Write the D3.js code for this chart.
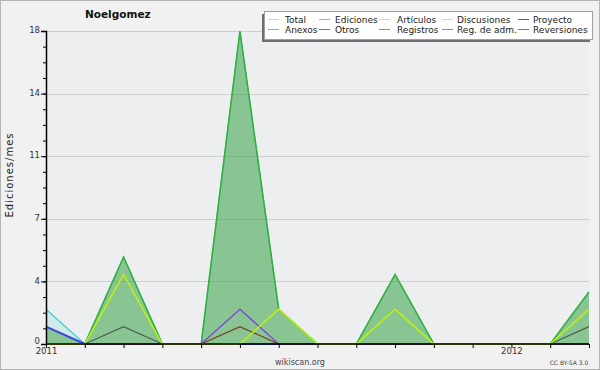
<!DOCTYPE html>
<html>
<head>
<meta charset="utf-8">
<script src="https://cdn.jsdelivr.net/npm/d3@7/dist/d3.min.js"></script>
<style>
  body { margin: 0; background: #fff; }
  svg { display: block; font-family: "DejaVu Sans", sans-serif; }
  .axis path, .axis line { stroke: #000; }
  .axis text { fill: #333; font-size: 8.5px; font-family: "DejaVu Sans", sans-serif; }
  .grid line { stroke: #cfcfcf; stroke-width: 1; }
  .legend text { font-size: 9px; fill: #222; }
</style>
</head>
<body>
<svg id="chart" width="600" height="370"></svg>
<script>
const months = ["2011-01", "2011-02", "2011-03", "2011-04", "2011-05", "2011-06", "2011-07",
  "2011-08", "2011-09", "2011-10", "2011-11", "2011-12", "2012-01", "2012-02", "2012-03"];

const total     = [2, 0, 5, 0, 0, 18, 2, 0, 0, 4, 0, 0, 0, 0, 3];
const ediciones = [1, 0, 5, 0, 0, 18, 2, 0, 0, 4, 0, 0, 0, 0, 3];
const articulos = [0, 0, 4, 0, 0, 0, 2, 0, 0, 2, 0, 0, 0, 0, 2];
const otros     = [0, 0, 0, 0, 0, 2, 0, 0, 0, 0, 0, 0, 0, 0, 0];
const registros = [1, 0, 0, 0, 0, 0, 0, 0, 0, 0, 0, 0, 0, 0, 0];
const anexos    = [0, 0, 0, 0, 0, 1, 0, 0, 0, 0, 0, 0, 0, 0, 0];
const proyecto  = [0, 0, 1, 0, 0, 1, 0, 0, 0, 0, 0, 0, 0, 0, 1];

const yTicks = [0, 3.6, 7.2, 10.8, 14.4, 18];
const yTickLabels = ["0", "4", "7", "11", "14", "18"];

const legendRow1 = ["Total", "Ediciones", "Artículos", "Discusiones", "Proyecto"];
const legendRow2 = ["Anexos", "Otros", "Registros", "Reg. de adm.", "Reversiones"];
const legendColors1 = ["#a8e8e4", "#7ccc7c", "#ccf04c", "#ffd44c", "#666666"];
const legendColors2 = ["#ff8a50", "#9050f0", "#8080ff", "#e050f0", "#ff4040"];

const plot = { left: 46, right: 589, top: 31, bottom: 344 };

const svg = d3.select("#chart");

svg.append("rect")
  .attr("x", 0.5).attr("y", 0.5)
  .attr("width", 599).attr("height", 369)
  .attr("fill", "#f1f1f1")
  .attr("stroke", "#b4b4b4");

svg.append("rect")
  .attr("x", plot.left).attr("y", plot.top)
  .attr("width", plot.right - plot.left).attr("height", plot.bottom - plot.top)
  .attr("fill", "#edeef0");

const x = d3.scalePoint().domain(months).range([plot.left, plot.right]);
const y = d3.scaleLinear().domain([0, 18]).range([plot.bottom, plot.top]);

// grid
svg.append("g")
  .attr("class", "grid")
  .selectAll("line")
  .data(yTicks.slice(1))
  .join("line")
  .attr("x1", plot.left).attr("x2", plot.right)
  .attr("y1", d => Math.round(y(d)) + 0.5).attr("y2", d => Math.round(y(d)) + 0.5);

const data = months.map((m, i) => ({ m, i }));

const area = series => d3.area()
  .x(d => x(d.m))
  .y0(y(0))
  .y1(d => y(series[d.i]));

const line = series => d3.line()
  .x(d => x(d.m))
  .y(d => y(series[d.i]));

// Total area
svg.append("path")
  .attr("d", area(total)(data))
  .attr("fill", "#5fd8cc").attr("fill-opacity", 0.18);
svg.append("path")
  .attr("d", line(total)(data))
  .attr("fill", "none").attr("stroke", "#3ccfd0").attr("stroke-width", 1.2);

// Ediciones area
svg.append("path")
  .attr("d", area(ediciones)(data))
  .attr("fill", "#3da03d").attr("fill-opacity", 0.5);
svg.append("path")
  .attr("d", line(ediciones)(data))
  .attr("fill", "none").attr("stroke", "#33b03a").attr("stroke-width", 1.5);

const lines = [
  { s: registros, c: "#4444ee", w: 2 },
  { s: otros, c: "#8035e8", w: 1.2 },
  { s: anexos, c: "#e07a30", w: 1.2 },
  { s: proyecto, c: "#3a3a3a", w: 1.2, o: 0.75 },
  { s: articulos, c: "#c4f500", w: 1.3 }
];
lines.forEach(l => {
  svg.append("path")
    .attr("d", line(l.s)(data))
    .attr("fill", "none")
    .attr("stroke", l.c)
    .attr("stroke-width", l.w)
    .attr("stroke-opacity", l.o || 1);
});

// axes
const yAxis = d3.axisLeft(y)
  .tickValues(yTicks)
  .tickFormat((d, i) => yTickLabels[i])
  .tickSize(5)
  .tickPadding(1);
svg.append("g")
  .attr("class", "axis")
  .attr("transform", `translate(${plot.left},0)`)
  .call(yAxis)
  .call(g => g.select(".domain").attr("stroke-width", 1.5))
  .call(g => g.selectAll("text").attr("dy", (d, i) => i === 0 ? "-0.1em" : "0.2em"));

svg.append("g")
  .attr("class", "axis")
  .attr("transform", `translate(${plot.left},0)`)
  .call(d3.axisLeft(y).tickValues(d3.range(0, 18.01, 0.9)).tickSize(3).tickFormat(""))
  .call(g => g.select(".domain").remove());

const xAxis = d3.axisBottom(x)
  .tickSize(4)
  .tickPadding(0)
  .tickFormat(d => d.endsWith("-01") ? d.slice(0, 4) : "");
svg.append("g")
  .attr("class", "axis")
  .attr("transform", `translate(0,${plot.bottom})`)
  .call(xAxis)
  .call(g => g.select(".domain").attr("stroke-width", 1.5).attr("d", `M${plot.left},0H${plot.right}`))
  .call(g => g.selectAll("text").attr("y", 4));

// title and labels
svg.append("text")
  .attr("x", 85).attr("y", 18)
  .attr("font-size", 10.5).attr("font-weight", "bold").attr("fill", "#111")
  .text("Noelgomez");

svg.append("text")
  .attr("transform", "translate(13,175) rotate(-90)")
  .attr("text-anchor", "middle")
  .attr("font-size", 10).attr("letter-spacing", 1).attr("fill", "#222")
  .text("Ediciones/mes");

svg.append("text")
  .attr("x", 300).attr("y", 365)
  .attr("text-anchor", "middle")
  .attr("font-size", 8).attr("fill", "#444")
  .text("wikiscan.org");

svg.append("text")
  .attr("x", 569).attr("y", 365)
  .attr("text-anchor", "middle")
  .attr("font-size", 6).attr("fill", "#444")
  .text("CC BY-SA 3.0");

// legend
const legend = svg.append("g").attr("class", "legend");
legend.append("rect")
  .attr("x", 262).attr("y", 14).attr("width", 328).attr("height", 28)
  .attr("fill", "#6e6e6e");
legend.append("rect")
  .attr("x", 264.5).attr("y", 11.5).attr("width", 328).attr("height", 28)
  .attr("fill", "#fff").attr("stroke", "#a0a0a0");

const colX = [268, 319, 379, 442, 518];
const textX = [285, 335, 397, 457, 533];
[[legendRow1, legendColors1, 19.5, 23], [legendRow2, legendColors2, 29.5, 33]].forEach(([names, colors, ly, ty]) => {
  names.forEach((n, i) => {
    legend.append("line")
      .attr("x1", colX[i]).attr("x2", colX[i] + 11)
      .attr("y1", ly).attr("y2", ly)
      .attr("stroke", colors[i]).attr("stroke-width", 1);
    legend.append("text")
      .attr("x", textX[i]).attr("y", ty)
      .text(n);
  });
});
</script>
</body>
</html>
